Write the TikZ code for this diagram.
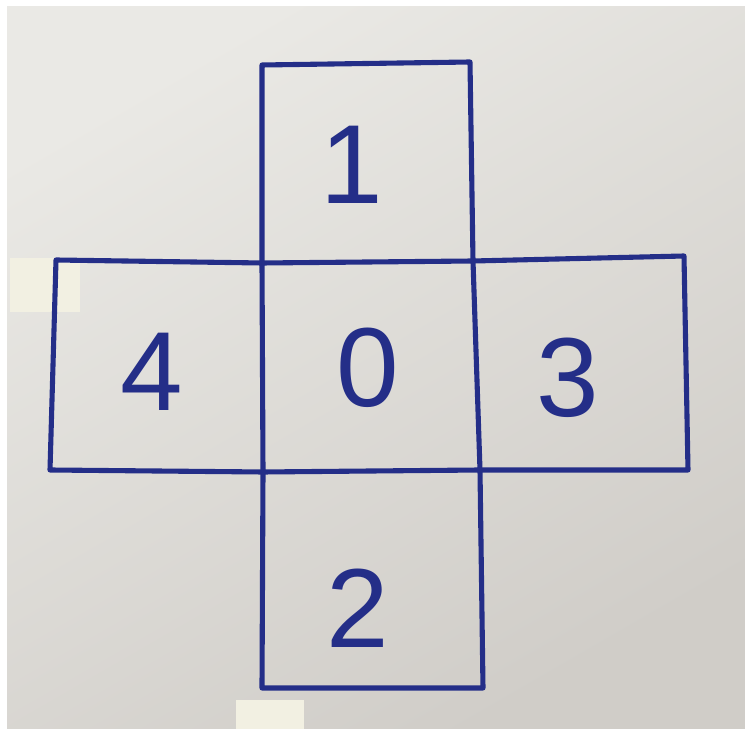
\documentclass[tikz,border=0pt]{standalone}
\usepackage{fontspec}
\setsansfont{Liberation Sans}
\usetikzlibrary{positioning,calc}
\definecolor{paperlight}{RGB}{234,233,229}
\definecolor{paperdark}{RGB}{208,205,200}
\definecolor{inkblue}{RGB}{36,46,136}
\definecolor{tapewhite}{RGB}{242,240,226}

\tikzset{
  inkline/.style={draw=inkblue, line width=2.9pt, line cap=round, line join=round},
  digit/.style={text=inkblue, font=\sffamily\fontsize{64}{64}\selectfont, inner sep=0pt},
  tape/.style={fill=tapewhite, draw=none}
}

\begin{document}
\begin{tikzpicture}[x=0.02cm, y=-0.02cm]
  \useasboundingbox (0,0) rectangle (745,729);
  % paper
  \fill[white] (0,0) rectangle (745,729);
  \shade[top color=paperlight, bottom color=paperdark, shading angle=30]
    (7,7) rectangle (745,729);
  % tape pieces
  \fill[tape] (10,258) rectangle (80,312);
  \fill[tape] (236,700) rectangle (304,729);
  % corners
  \coordinate (t1) at (262,65);
  \coordinate (t2) at (470,62);
  \coordinate (m1) at (262,263);
  \coordinate (m2) at (473,261);
  \coordinate (l1) at (56,260);
  \coordinate (l2) at (50,470);
  \coordinate (m3) at (263,472);
  \coordinate (m4) at (480,470);
  \coordinate (r1) at (684,256);
  \coordinate (r2) at (688,470);
  \coordinate (b1) at (262,688);
  \coordinate (b2) at (483,688);
  % squares
  \draw[inkline] (m1) -- (t1) -- (t2) -- (m2);
  \draw[inkline] (m1) -- (l1) -- (l2) -- (m3);
  \draw[inkline] (m2) -- (r1) -- (r2) -- (m4);
  \draw[inkline] (m3) -- (b1) -- (b2) -- (m4);
  \draw[inkline] (m1) -- (m2) -- (m4) -- (m3) -- cycle;
  % numbers
  \node[digit] (n1) at (352,165) {1};
  \node[digit] (n0) at (368,368) {0};
  \node[digit] (n3) at (568,378) {3};
  \node[digit] (n4) at (152,372) {4};
  \node[digit] (n2) at (358,608) {2};
\end{tikzpicture}
\end{document}
